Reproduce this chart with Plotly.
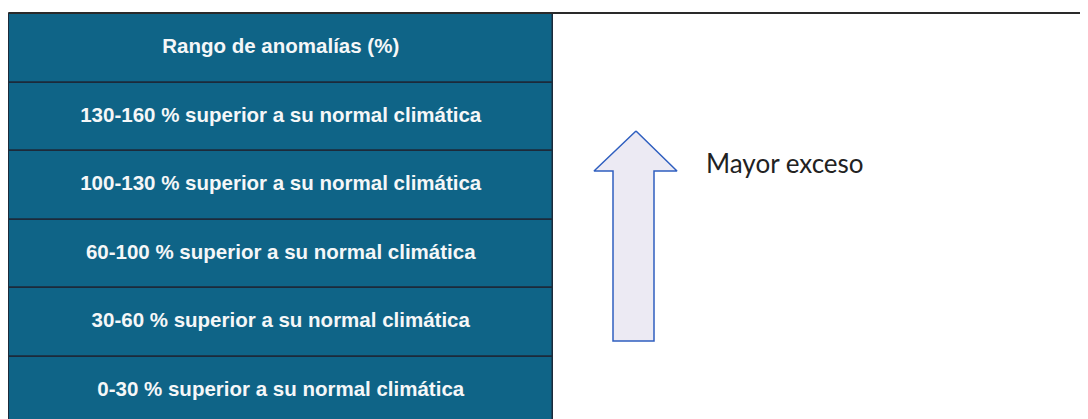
import plotly.graph_objects as go

# ---- data ----
header_label = "Rango de anomalías (%)"
ranges = ["130-160", "100-130", "60-100", "30-60", "0-30"]
suffix = " % superior a su normal climática"
row_labels = [header_label] + [r + suffix for r in ranges]
arrow_label = "Mayor exceso"

# ---- style / layout constants ----
OFF = 8                      # page body margin
W, H = 1088 - OFF, 419 - OFF
TEAL = "#0f6487"
LINE = "#1c2a3a"
TEXT = "#f5f7f8"
FONT_T = "Liberation Sans, Arial, sans-serif"

TABLE_L, TABLE_R = 8 - OFF + 0.5, 553 - OFF   # px
TABLE_TOP = 13 - OFF                             # px
ROW_H = 68.5                                     # px per row

fig = go.Figure()

# table rows as horizontal bars on a categorical axis
n = len(row_labels)
fig.add_trace(go.Bar(
    x=[1] * n, y=row_labels, orientation="h", base=0, width=1,
    marker=dict(color=TEAL, line=dict(color=LINE, width=1.5)),
    hoverinfo="skip", xaxis="x", yaxis="y",
))
fig.add_trace(go.Scatter(
    x=[0.5] * n, y=row_labels, mode="text", text=row_labels,
    textposition="middle center",
    textfont=dict(family=FONT_T, size=20.5, color=TEXT, weight="bold"),
    hoverinfo="skip", xaxis="x", yaxis="y",
))

# block arrow (decorative shape, page-pixel units)
arrow_x = [636, 677, 654, 654, 613, 613, 594, 636]
arrow_y = [131, 171, 171, 341, 341, 171, 171, 131]
fig.add_trace(go.Scatter(
    x=[v - OFF for v in arrow_x], y=[v - OFF for v in arrow_y],
    mode="lines", fill="toself",
    fillcolor="#eceaf3", line=dict(color="#2f5fc0", width=1.5),
    hoverinfo="skip", xaxis="x2", yaxis="y2",
))

fig.add_annotation(
    x=704 - OFF, y=163 - OFF, xref="x2", yref="y2", text=arrow_label,
    showarrow=False, xanchor="left", yanchor="middle",
    font=dict(family="Lato, Open Sans, sans-serif", size=26, color="#222222"),
)

# top rule
fig.add_shape(type="line", xref="paper", yref="paper",
              x0=TABLE_L / W, x1=1, y0=1 - TABLE_TOP / H, y1=1 - TABLE_TOP / H,
              line=dict(color="#2a2a2a", width=2))

# axes: table axis mapped so bar 0..1 spans TABLE_L..TABLE_R px
dom_w = 570.0
s = (TABLE_R - TABLE_L)
x_r0 = -TABLE_L / s
x_r1 = x_r0 + dom_w / s
y_top = -0.5 - (TABLE_TOP + 1) / ROW_H
y_bot = y_top + H / ROW_H

fig.update_layout(
    width=W, height=H, margin=dict(l=0, r=0, t=0, b=0),
    paper_bgcolor="white", plot_bgcolor="rgba(0,0,0,0)",
    showlegend=False, bargap=0,
    xaxis=dict(domain=[0, dom_w / W], range=[x_r0, x_r1], visible=False,
               fixedrange=True, anchor="y"),
    yaxis=dict(domain=[0, 1], range=[y_bot, y_top], visible=False, fixedrange=True,
               type="category", categoryorder="array", categoryarray=row_labels,
               anchor="x"),
    xaxis2=dict(domain=[0, 1], range=[0, W], visible=False, fixedrange=True,
                anchor="y2"),
    yaxis2=dict(domain=[0, 1], range=[H, 0], visible=False, fixedrange=True,
                anchor="x2"),
)

fig.write_html("out.html")
